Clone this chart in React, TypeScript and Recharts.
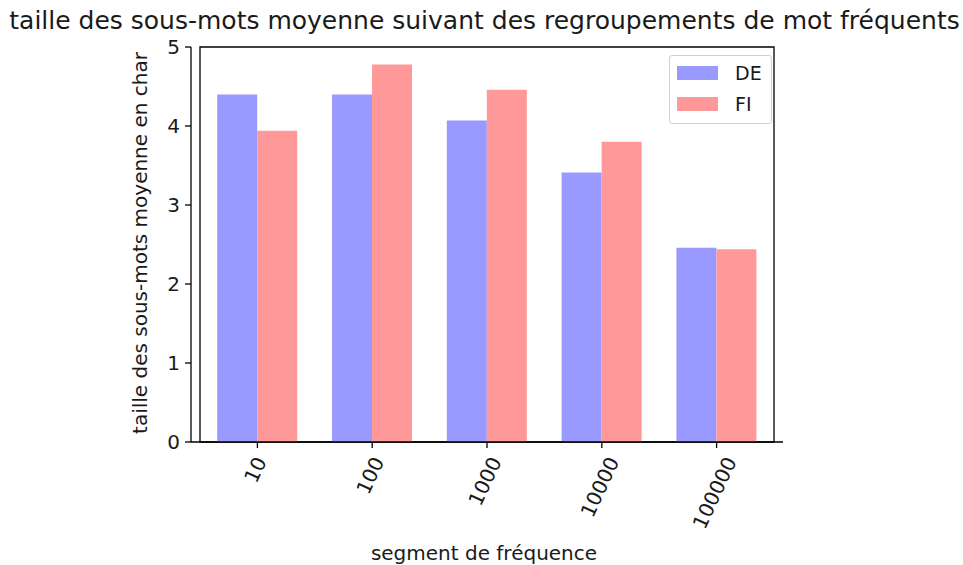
import React from 'react';
import { BarChart, Bar, XAxis, YAxis, Legend, ReferenceArea } from 'recharts';

const categories = ['10', '100', '1000', '10000', '100000'];
const deValues = [4.40, 4.40, 4.07, 3.41, 2.46];
const fiValues = [3.94, 4.78, 4.46, 3.80, 2.44];
const yTicks = [0, 1, 2, 3, 4, 5];
const seriesNames = ['DE', 'FI'];

const titleText = 'taille des sous-mots moyenne suivant des regroupements de mot fréquents';
const yLabelText = 'taille des sous-mots moyenne en char';
const xLabelText = 'segment de fréquence';

const data = categories.map((c, i) => ({ cat: c, DE: deValues[i], FI: fiValues[i] }));

const FONT = '"DejaVu Sans", sans-serif';
const TEXT = '#1a1a1a';
const FS = 20;

const XTick = (props: any) => {
  const { x, y, payload } = props;
  const s = String(payload.value);
  const fs = FS;
  const w = s.length * 0.636 * fs;
  const h = fs * 1.0;
  const a = (65 * Math.PI) / 180;
  const bh = w * Math.sin(a) + h * Math.cos(a);
  const cy = y + 4 + bh / 2;
  return (
    <text
      x={x - 2}
      y={cy}
      transform={`rotate(-65 ${x - 2} ${cy})`}
      textAnchor="middle"
      dominantBaseline="central"
      fontFamily={FONT}
      fontSize={fs}
      fill={TEXT}
    >
      {s}
    </text>
  );
};

const LegendBox = (props: any) => {
  const payload = props.payload || [];
  return (
    <div
      style={{
        width: 103,
        height: 69,
        boxSizing: 'border-box',
        border: '1px solid #d0d0d0',
        borderRadius: 3,
        background: 'rgba(255,255,255,0.8)',
        position: 'relative',
        fontFamily: FONT,
      }}
    >
      {payload.map((p: any, i: number) => (
        <div key={p.value} style={{ position: 'absolute', left: 0, top: 0 }}>
          <div
            style={{
              position: 'absolute',
              left: 7,
              top: 10 + i * 31,
              width: 41,
              height: 14,
              background: p.color,
            }}
          />
          <div
            style={{
              position: 'absolute',
              left: 65,
              top: 6 + i * 31,
              fontSize: 19,
              lineHeight: '22px',
              color: TEXT,
              whiteSpace: 'nowrap',
            }}
          >
            {p.value}
          </div>
        </div>
      ))}
    </div>
  );
};

export default function App() {
  return (
    <div style={{ position: 'absolute', left: 0, top: 0, width: 963, height: 565, background: '#fff' }}>
      <div
        style={{
          position: 'absolute',
          left: 3,
          top: 6,
          width: 963,
          textAlign: 'center',
          fontFamily: FONT,
          fontSize: 25,
          lineHeight: '30px',
          color: TEXT,
          whiteSpace: 'nowrap',
        }}
      >
        {titleText}
      </div>
      <BarChart
        width={963}
        height={565}
        data={data}
        margin={{ top: 47, right: 180, bottom: 0, left: 1 }}
        barCategoryGap="15%"
        barGap={0}
      >
        <XAxis
          dataKey="cat"
          interval={0}
          padding={{ left: 9, right: 9 }}
          tickSize={6}
          tick={<XTick />}
          axisLine={{ stroke: '#000', strokeWidth: 1.3 }}
          tickLine={{ stroke: '#000', strokeWidth: 1.3 }}
          height={123}
          label={(p: any) => (
            <text
              x={484}
              y={560}
              textAnchor="middle"
              fontFamily={FONT}
              fontSize={FS}
              fill={TEXT}
            >
              {xLabelText}
            </text>
          )}
        />
        <YAxis
          domain={[0, 5]}
          ticks={yTicks}
          width={190}
          tickSize={6}
          tickMargin={5}
          interval={0}
          tick={{ fontFamily: FONT, fontSize: FS, fill: TEXT }}
          axisLine={{ stroke: '#000', strokeWidth: 1.3 }}
          tickLine={{ stroke: '#000', strokeWidth: 1.3 }}
          label={(p: any) => (
            <text
              x={140}
              y={243}
              transform="rotate(-90 140 243)"
              textAnchor="middle"
              dominantBaseline="central"
              fontFamily={FONT}
              fontSize={FS}
              fill={TEXT}
            >
              {yLabelText}
            </text>
          )}
        />
        <ReferenceArea y1={0} y2={5} fill="none" stroke="#000" strokeWidth={1.3} ifOverflow="visible" />
        <Legend
          layout="horizontal"
          verticalAlign="middle"
          align="center"
          content={<LegendBox />}
          wrapperStyle={{ left: 669, top: 55, width: 103, height: 69 }}
        />
        <Bar dataKey="DE" name={seriesNames[0]} fill="#9999ff" isAnimationActive={false} />
        <Bar dataKey="FI" name={seriesNames[1]} fill="#ff9999" isAnimationActive={false} />
      </BarChart>
    </div>
  );
}
